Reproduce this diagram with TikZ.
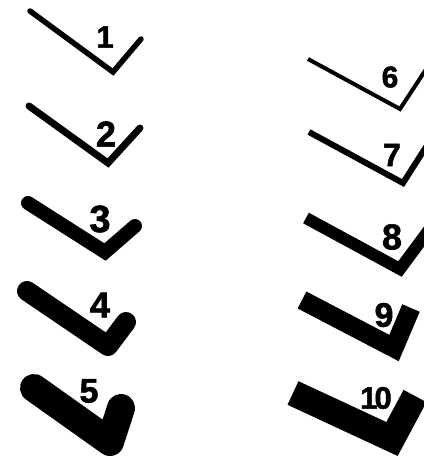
\documentclass[tikz,border=0pt]{standalone}
\usepackage{fontspec}
\setmainfont{Liberation Sans}
\newfontfamily\numfont[BoldFeatures={FakeBold=1.6}]{Liberation Sans}
\begin{document}
\begin{tikzpicture}[x=1pt,y=-1pt,
  rtick/.style={line width=#1, line cap=round, line join=miter},
  otick/.style={line width=#1, line cap=round, line join=round},
  stick/.style={line width=#1, line cap=butt, line join=miter},
  num/.style={font=\numfont\bfseries\fontsize{#1}{#1}\selectfont, inner sep=0pt}]
\useasboundingbox (0,0) rectangle (424,459);
\clip (0,0) rectangle (424,459);
% left column
\coordinate (a1) at (30,11);  \coordinate (v1) at (113,72);  \coordinate (b1) at (141,39);
\coordinate (a2) at (29,106); \coordinate (v2) at (108,163); \coordinate (b2) at (140,128);
\coordinate (a3) at (28,203); \coordinate (v3) at (105,252); \coordinate (b3) at (135,226);
\coordinate (a4) at (27,291); \coordinate (v4) at (108,346); \coordinate (b4) at (126,322);
\coordinate (a5) at (34,388); \coordinate (v5) at (110,442); \coordinate (b5) at (121,408);
\draw[rtick=5.5] (a1) -- (v1) -- (b1);
\draw[rtick=7] (a2) -- (v2) -- (b2);
\draw[rtick=14] (a3) -- (v3) -- (b3);
\draw[otick=20] (a4) -- (v4) -- (b4);
\draw[otick=28] (a5) -- (v5) -- (b5);
\node[num=31] (n1) at (105,37) {1};
\node[num=36] (n2) at (106,134) {2};
\node[num=38] (n3) at (100,219) {3};
\node[num=36] (n4) at (100,305) {4};
\node[num=34] (n5) at (89,391) {5};
% right column
\coordinate (a6) at (308,59);  \coordinate (v6) at (400,109); \coordinate (b6) at (440,48);
\coordinate (a7) at (309,132); \coordinate (v7) at (403,183); \coordinate (b7) at (440,125);
\coordinate (a8) at (306,218); \coordinate (v8) at (400,269); \coordinate (b8) at (440,215);
\coordinate (a9) at (302,300); \coordinate (v9) at (394,348); \coordinate (b9) at (411,308);
\coordinate (a10) at (293,393); \coordinate (v10) at (392,439); \coordinate (b10) at (415,396);
\draw[stick=4] (a6) -- (v6) -- (b6);
\draw[stick=6] (a7) -- (v7) -- (b7);
\draw[stick=12] (a8) -- (v8) -- (b8);
\draw[stick=19] (a9) -- (v9) -- (b9);
\draw[stick=26] (a10) -- (v10) -- (b10);
\node[num=30] (n6) at (390,77) {6};
\node[num=32] (n7) at (392,155) {7};
\node[num=36] (n8) at (392,237) {8};
\node[num=34] (n9) at (384,315) {9};
\node[num=31] (n10) at (376,398) {1\kern-3pt 0};
\end{tikzpicture}
\end{document}
